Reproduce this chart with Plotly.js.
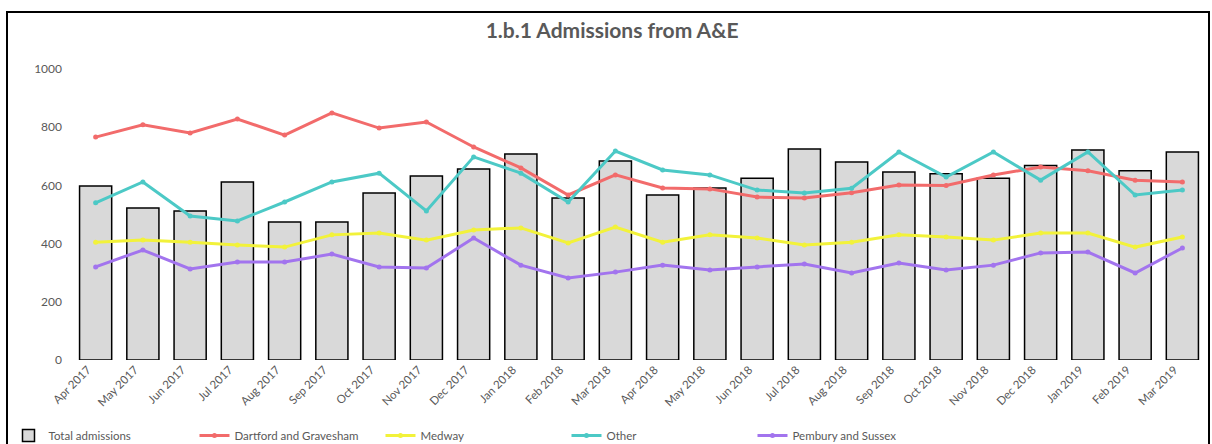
<!DOCTYPE html>
<html>
<head>
<meta charset="utf-8">
<script src="https://cdn.plot.ly/plotly-3.0.1.min.js"></script>
<style>
  html, body { margin: 0; padding: 0; background: #fff; overflow: hidden; }
  #chart { width: 1212px; height: 444px; position: relative; }
  #frame { position: absolute; left: 6px; top: 11px; right: 2px; bottom: -10px;
           border: 2px solid #000; pointer-events: none; }
</style>
</head>
<body>
<div id="chart"></div>
<div id="frame"></div>
<script>
const months = ["Apr 2017","May 2017","Jun 2017","Jul 2017","Aug 2017","Sep 2017","Oct 2017","Nov 2017",
  "Dec 2017","Jan 2018","Feb 2018","Mar 2018","Apr 2018","May 2018","Jun 2018","Jul 2018",
  "Aug 2018","Sep 2018","Oct 2018","Nov 2018","Dec 2018","Jan 2019","Feb 2019","Mar 2019"];

const totalAdmissions = [598,522,512,612,474,474,574,632,656,708,557,684,567,591,625,725,680,646,640,625,668,722,650,715];
const sandwell = [766,808,780,828,773,849,797,818,732,660,567,636,591,588,560,557,575,601,600,636,663,650,618,612];
const yellowSeries = [405,412,405,395,388,430,436,412,447,454,402,457,405,430,419,395,405,430,423,412,436,436,388,423];
const cyanSeries = [540,612,495,478,543,612,642,512,698,642,543,718,653,636,584,574,590,715,629,715,618,715,567,584];
const purpleSeries = [320,378,313,337,337,364,320,316,419,326,282,302,326,309,320,330,299,333,309,326,368,371,299,385];

const seriesNames = ["Total admissions","Dartford and Gravesham","Medway","Other","Pembury and Sussex"];
const yTicks = [0,200,400,600,800,1000];

const lineStyle = (c) => ({ color: c, width: 3 });
const mk = (c) => ({ color: c, size: 5 });

const traces = [
  { type: "bar", x: months, y: totalAdmissions, name: seriesNames[0],
    marker: { color: "#d9d9d9", line: { color: "#000", width: 1.5 } }, width: 0.68 },
  { type: "scatter", mode: "lines+markers", x: months, y: sandwell, name: seriesNames[1],
    line: lineStyle("#f26b6b"), marker: mk("#f26b6b") },
  { type: "scatter", mode: "lines+markers", x: months, y: yellowSeries, name: seriesNames[2],
    line: lineStyle("#f2f23a"), marker: mk("#f2f23a") },
  { type: "scatter", mode: "lines+markers", x: months, y: cyanSeries, name: seriesNames[3],
    line: lineStyle("#4cc9c6"), marker: mk("#4cc9c6") },
  { type: "scatter", mode: "lines+markers", x: months, y: purpleSeries, name: seriesNames[4],
    line: lineStyle("#a274ee"), marker: mk("#a274ee") }
];

const layout = {
  width: 1212, height: 444,
  margin: { l: 72, r: 6, t: 69, b: 84, autoexpand: false },
  paper_bgcolor: "#fff", plot_bgcolor: "#fff",
  font: { family: "Lato, 'Open Sans', sans-serif", color: "#595959", size: 10 },
  title: { text: "<b>1.b.1 Admissions from A&E</b>", x: 0.505, xref: "container", xanchor: "center",
           y: 0.93, yanchor: "middle",
           font: { family: "Lato, 'Open Sans', sans-serif", size: 21, color: "#595959" } },
  showlegend: true,
  legend: { orientation: "h", x: -0.056, xanchor: "left", y: -0.21, yanchor: "top",
            entrywidth: 141, entrywidthmode: "pixels", itemwidth: 30, traceorder: "normal",
            font: { size: 11.5, color: "#595959" } },
  xaxis: { type: "category", range: [-0.5, 23.5], tickangle: -45, showgrid: false, showline: false,
           zeroline: false, automargin: false, ticks: "", ticklabelshift: -8,
           tickfont: { size: 11.5, color: "#595959" } },
  yaxis: { range: [0, 1000], tickvals: yTicks, ticktext: yTicks.map(String), showgrid: false,
           automargin: false, showline: false, zeroline: false, ticks: "", ticklabelstandoff: 9,
           tickfont: { size: 12, color: "#595959" } },
  bargap: 0.32
};

Plotly.newPlot("chart", traces, layout, { displayModeBar: false, staticPlot: true });
</script>
</body>
</html>
